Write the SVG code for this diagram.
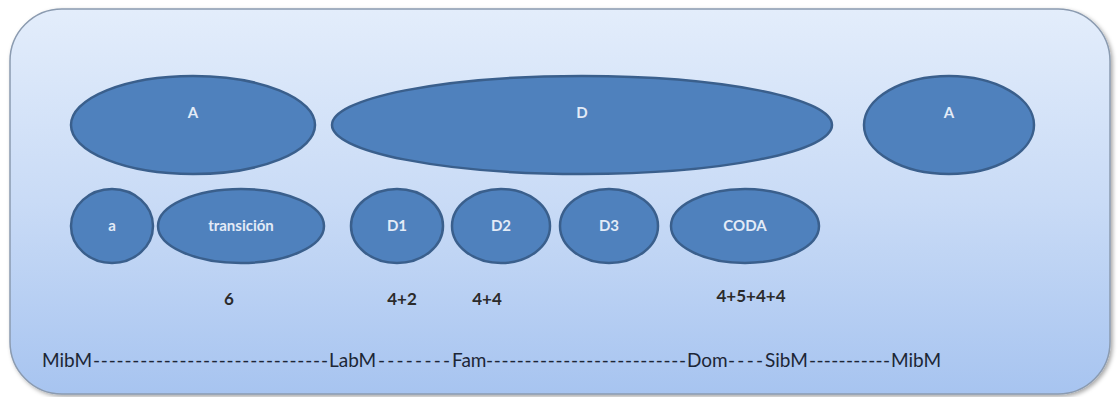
<svg xmlns="http://www.w3.org/2000/svg" width="1118" height="397" viewBox="0 0 1118 397">
<defs>
<linearGradient id="bg" x1="0" y1="0" x2="0" y2="1">
<stop offset="0" stop-color="#e3edfb"/>
<stop offset="0.5" stop-color="#c9dbf6"/>
<stop offset="1" stop-color="#a7c4f0"/>
</linearGradient>
<filter id="sh" x="-5%" y="-5%" width="110%" height="115%">
<feDropShadow dx="2" dy="2" stdDeviation="2" flood-color="#000" flood-opacity="0.35"/>
</filter>
<style>
.n{fill:#4f81bd;stroke:#3a5f8c;stroke-width:2.5}
.l{font-family:Lato,"Liberation Sans",sans-serif;font-size:15px;font-weight:bold;fill:#e3ebf7;text-anchor:middle}
.num{font-family:Lato,"Liberation Sans",sans-serif;font-size:17px;font-weight:bold;fill:#2b2b2b;text-anchor:middle}
.key{font-family:Lato,"Liberation Sans",sans-serif;font-size:19px;fill:#1c2636}
</style>
</defs>
<rect x="10" y="9" width="1100" height="385" rx="52" ry="52" fill="url(#bg)" stroke="#8b9bb0" stroke-width="1.5" filter="url(#sh)"/>
<g id="nodes">
<g id="A1"><ellipse class="n" cx="193" cy="125" rx="122" ry="49"/><text class="l" x="193" y="118">A</text></g>
<g id="D"><ellipse class="n" cx="582" cy="125" rx="250" ry="49"/><text class="l" x="582" y="118">D</text></g>
<g id="A2"><ellipse class="n" cx="949" cy="125" rx="85" ry="49"/><text class="l" x="949" y="118">A</text></g>
<g id="a"><ellipse class="n" cx="112" cy="226" rx="41" ry="37"/><text class="l" x="112" y="231">a</text></g>
<g id="transicion"><ellipse class="n" cx="241" cy="226" rx="83" ry="37"/><text class="l" x="241" y="231">transición</text></g>
<g id="D1"><ellipse class="n" cx="397" cy="226" rx="46" ry="37"/><text class="l" x="397" y="231">D1</text></g>
<g id="D2"><ellipse class="n" cx="501" cy="226" rx="49" ry="37"/><text class="l" x="501" y="231">D2</text></g>
<g id="D3"><ellipse class="n" cx="609" cy="226" rx="49" ry="37"/><text class="l" x="609" y="231">D3</text></g>
<g id="CODA"><ellipse class="n" cx="745" cy="226" rx="74" ry="37"/><text class="l" x="745" y="231">CODA</text></g>
</g>
<g id="connectors"></g>
<g id="measures">
<text class="num" x="229" y="305">6</text>
<text class="num" x="402" y="305">4+2</text>
<text class="num" x="487" y="305">4+4</text>
<text class="num" x="751" y="302">4+5+4+4</text>
</g>
<g id="keys">
<text class="key" y="367"><tspan x="42">MibM</tspan><tspan x="93" textLength="235" lengthAdjust="spacing">------------------------------</tspan><tspan x="329">LabM</tspan><tspan x="378" textLength="72" lengthAdjust="spacing">--------</tspan><tspan x="452">Fam</tspan><tspan x="486" textLength="200" lengthAdjust="spacing">--------------------------</tspan><tspan x="687">Dom</tspan><tspan x="728" textLength="35" lengthAdjust="spacing">----</tspan><tspan x="765">SibM</tspan><tspan x="809" textLength="81" lengthAdjust="spacing">-----------</tspan><tspan x="891">MibM</tspan></text>
</g>
</svg>
